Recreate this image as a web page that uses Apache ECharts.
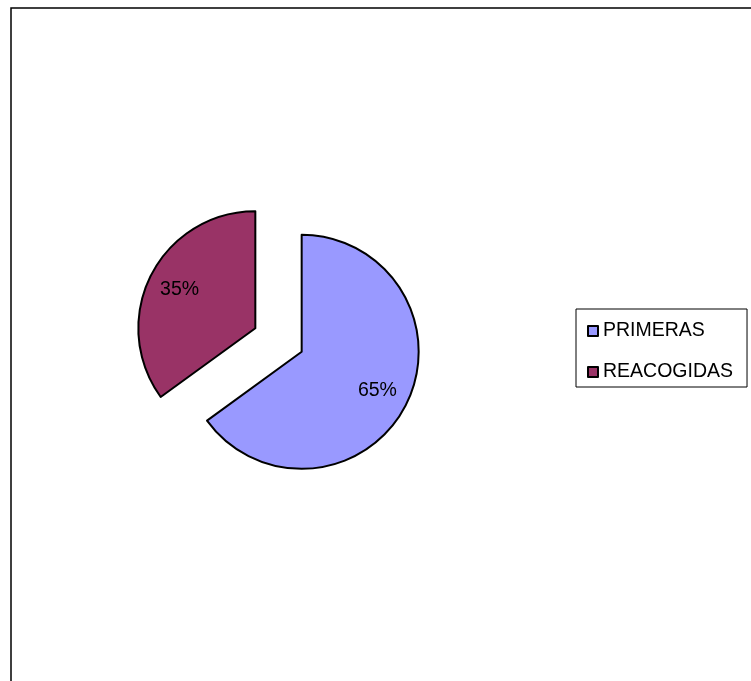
<!DOCTYPE html>
<html>
<head>
<meta charset="utf-8">
<script src="https://cdn.jsdelivr.net/npm/echarts@6/dist/echarts.min.js"></script>
<style>
html,body{margin:0;padding:0;background:#fff;}
#c{width:751px;height:681px;}
</style>
</head>
<body>
<div id="c"></div>
<script>
const categories = ['PRIMERAS', 'REACOGIDAS'];
const values = [65, 35];
const colors = ['#9999FF', '#993366'];

const chart = echarts.init(document.getElementById('c'), null, {renderer: 'canvas'});
const mainData = categories.map((n, i) => ({name: n, value: values[i], selected: true, itemStyle: {color: colors[i]}}));
const labelData = categories.map((n, i) => ({name: n, value: values[i], selected: true}));
const FONT = 'Liberation Sans, Arial, sans-serif';

chart.setOption({
  animation: false,
  backgroundColor: '#ffffff',
  graphic: [{
    type: 'rect',
    shape: {x: 11, y: 8, width: 800, height: 720},
    style: {fill: 'none', stroke: '#000', lineWidth: 1.5},
    silent: true,
    z: 100
  }],
  legend: {
    orient: 'vertical',
    left: 576,
    top: 309,
    padding: [12, 14, 5, 11],
    itemWidth: 10,
    itemHeight: 10,
    itemGap: 21,
    borderColor: '#000',
    borderWidth: 1,
    icon: 'rect',
    selectedMode: false,
    data: categories,
    textStyle: {fontFamily: FONT, fontSize: 19.5, color: '#000', lineHeight: 20}
  },
  series: [{
    type: 'pie',
    center: [278.5, 340],
    radius: [0, 117],
    startAngle: 90,
    clockwise: true,
    selectedMode: 'multiple',
    selectedOffset: 26,
    silent: true,
    label: {show: false},
    labelLine: {show: false},
    itemStyle: {borderColor: '#000', borderWidth: 2},
    emphasis: {disabled: true},
    data: mainData
  }, {
    type: 'pie',
    center: [278.5, 340],
    radius: [0, 164],
    startAngle: 90,
    clockwise: true,
    selectedMode: 'multiple',
    selectedOffset: 26,
    silent: true,
    itemStyle: {color: 'rgba(0,0,0,0)', borderWidth: 0},
    label: {show: true, position: 'inside', formatter: '{d}%', fontFamily: FONT, fontSize: 19.5, color: '#000', offset: [1, 4]},
    labelLine: {show: false},
    emphasis: {disabled: true},
    data: labelData
  }]
});
</script>
</body>
</html>
